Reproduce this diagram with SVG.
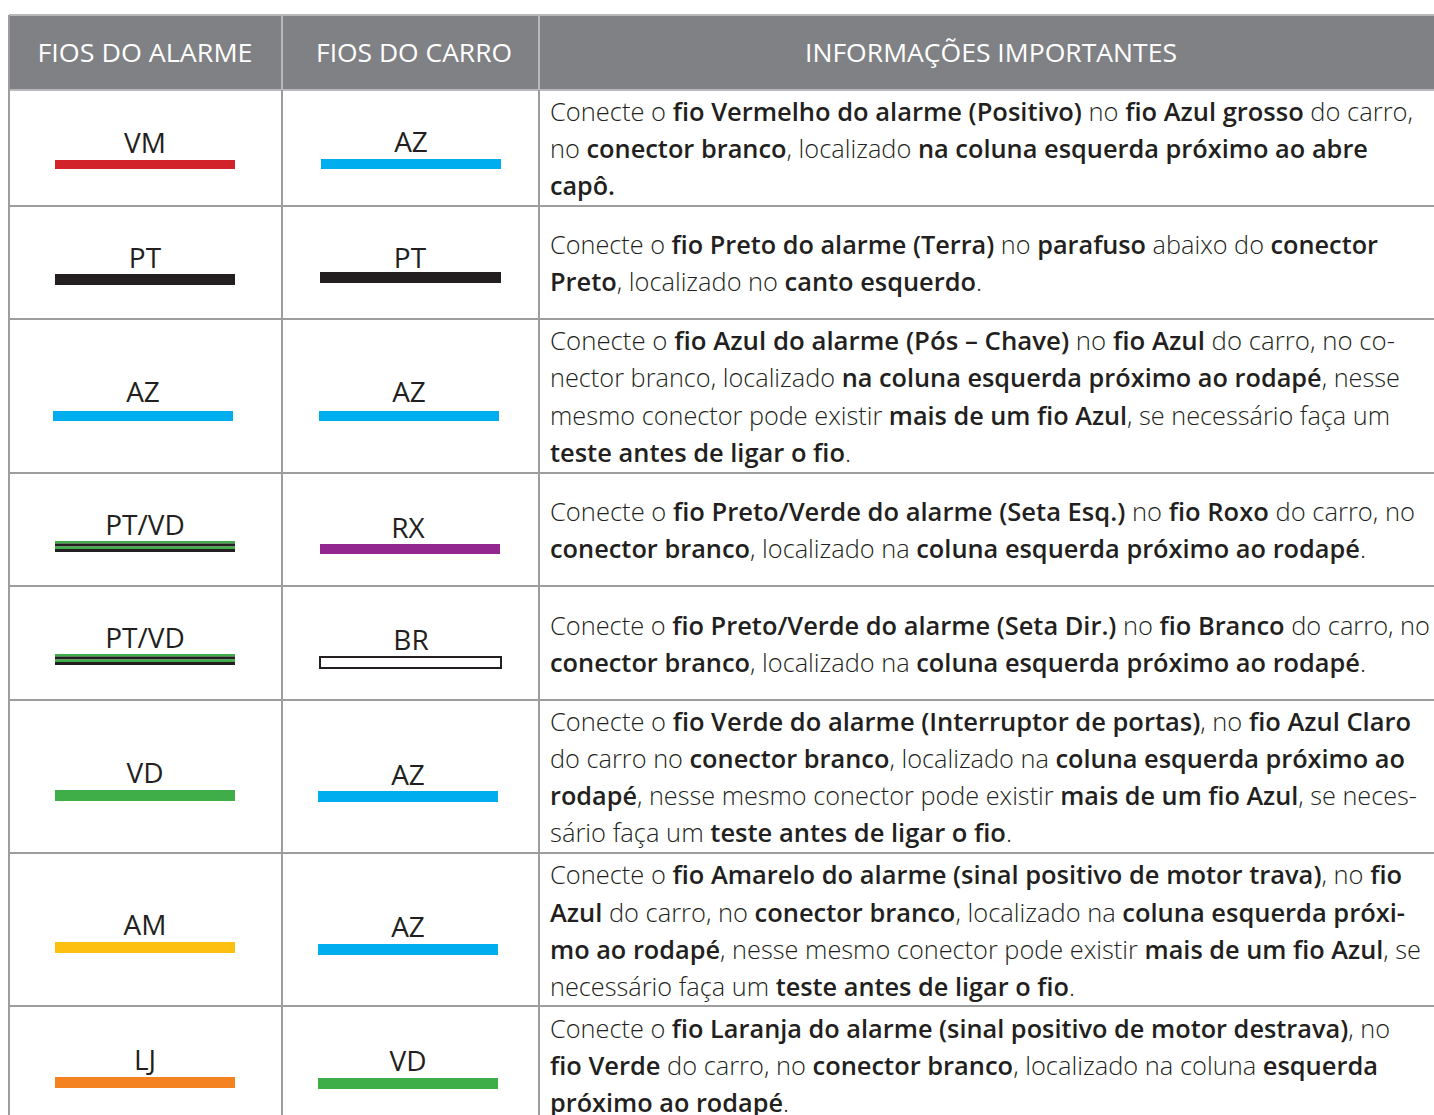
<svg xmlns="http://www.w3.org/2000/svg" width="1434" height="1115" viewBox="0 0 1434 1115">
<style>
.t{font-family:"Open Sans","Noto Sans",sans-serif;font-size:26px;fill:#231f20;font-weight:300}
.b{font-weight:600}
.hd{font-family:"Open Sans","Noto Sans",sans-serif;font-size:25px;fill:#ffffff;font-weight:400;text-anchor:middle}
.lb{font-family:"Open Sans","Noto Sans",sans-serif;font-size:28px;fill:#231f20;font-weight:400;text-anchor:middle}
.gl{stroke:#9d9d9d;stroke-width:2;fill:none}
.gh{stroke:#b8b9bb;stroke-width:2;fill:none}
</style>
<rect x="0" y="0" width="1434" height="1115" fill="#ffffff"/>
<g id="header">
<rect x="9" y="15" width="1425" height="75" fill="#808184"/>
<text class="hd" x="145" y="62" textLength="215" lengthAdjust="spacingAndGlyphs">FIOS DO ALARME</text>
<text class="hd" x="414" y="62" textLength="196" lengthAdjust="spacingAndGlyphs">FIOS DO CARRO</text>
<text class="hd" x="991" y="62" textLength="372" lengthAdjust="spacingAndGlyphs">INFORMAÇÕES IMPORTANTES</text>
</g>
<g id="grid">
<line class="gh" x1="9" y1="15" x2="1434" y2="15"/>
<line class="gh" x1="282" y1="15" x2="282" y2="90"/>
<line class="gh" x1="539" y1="15" x2="539" y2="90"/>
<line class="gh" x1="9" y1="90" x2="1434" y2="90"/>
<line class="gl" x1="9" y1="15" x2="9" y2="1115"/>
<line class="gl" x1="282" y1="90" x2="282" y2="1115"/>
<line class="gl" x1="539" y1="90" x2="539" y2="1115"/>
<line class="gl" x1="9" y1="206" x2="1434" y2="206"/>
<line class="gl" x1="9" y1="319" x2="1434" y2="319"/>
<line class="gl" x1="9" y1="473" x2="1434" y2="473"/>
<line class="gl" x1="9" y1="586" x2="1434" y2="586"/>
<line class="gl" x1="9" y1="700" x2="1434" y2="700"/>
<line class="gl" x1="9" y1="853" x2="1434" y2="853"/>
<line class="gl" x1="9" y1="1006" x2="1434" y2="1006"/>
</g>
<g id="row1">
<text class="lb" x="145" y="153">VM</text>
<rect x="55" y="160" width="180" height="9" fill="#d2232a"/>
<text class="lb" x="411" y="152">AZ</text>
<rect x="321" y="159" width="180" height="10" fill="#00aeef"/>
<text class="t" x="550" y="121" textLength="863" lengthAdjust="spacingAndGlyphs">Conecte o <tspan class="b">fio Vermelho do alarme (Positivo)</tspan> no <tspan class="b">fio Azul grosso</tspan> do carro,</text>
<text class="t" x="550" y="158" textLength="818" lengthAdjust="spacingAndGlyphs">no <tspan class="b">conector branco</tspan>, localizado <tspan class="b">na coluna esquerda próximo ao abre</tspan></text>
<text class="t b" x="550" y="195" textLength="65" lengthAdjust="spacingAndGlyphs">capô.</text>
</g>
<g id="row2">
<text class="lb" x="145" y="268">PT</text>
<rect x="55" y="274" width="180" height="11" fill="#231f20"/>
<text class="lb" x="410" y="268">PT</text>
<rect x="320" y="272" width="181" height="11" fill="#231f20"/>
<text class="t" x="550" y="254" textLength="828" lengthAdjust="spacingAndGlyphs">Conecte o <tspan class="b">fio Preto do alarme (Terra)</tspan> no <tspan class="b">parafuso</tspan> abaixo do <tspan class="b">conector</tspan></text>
<text class="t" x="550" y="291" textLength="432" lengthAdjust="spacingAndGlyphs"><tspan class="b">Preto</tspan>, localizado no <tspan class="b">canto esquerdo</tspan>.</text>
</g>
<g id="row3">
<text class="lb" x="143" y="402">AZ</text>
<rect x="53" y="411" width="180" height="10" fill="#00aeef"/>
<text class="lb" x="409" y="402">AZ</text>
<rect x="319" y="411" width="180" height="10" fill="#00aeef"/>
<text class="t" x="550" y="350" textLength="845" lengthAdjust="spacingAndGlyphs">Conecte o <tspan class="b">fio Azul do alarme (Pós – Chave)</tspan> no <tspan class="b">fio Azul</tspan> do carro, no co-</text>
<text class="t" x="550" y="387" textLength="850" lengthAdjust="spacingAndGlyphs">nector branco, localizado <tspan class="b">na coluna esquerda próximo ao rodapé</tspan>, nesse</text>
<text class="t" x="550" y="425" textLength="840" lengthAdjust="spacingAndGlyphs">mesmo conector pode existir <tspan class="b">mais de um fio Azul</tspan>, se necessário faça um</text>
<text class="t" x="550" y="462" textLength="301" lengthAdjust="spacingAndGlyphs"><tspan class="b">teste antes de ligar o fio</tspan>.</text>
</g>
<g id="row4">
<text class="lb" x="145" y="535">PT/VD</text>
<rect x="55" y="541" width="180" height="2.5" fill="#3fae49"/>
<rect x="55" y="543.5" width="180" height="3" fill="#231f20"/>
<rect x="55" y="546.5" width="180" height="2.5" fill="#3fae49"/>
<rect x="55" y="549" width="180" height="3" fill="#231f20"/>
<text class="lb" x="408" y="538">RX</text>
<rect x="320" y="544" width="180" height="10" fill="#92278f"/>
<text class="t" x="550" y="521" textLength="865" lengthAdjust="spacingAndGlyphs">Conecte o <tspan class="b">fio Preto/Verde do alarme (Seta Esq.)</tspan> no <tspan class="b">fio Roxo</tspan> do carro, no</text>
<text class="t" x="550" y="558" textLength="816" lengthAdjust="spacingAndGlyphs"><tspan class="b">conector branco</tspan>, localizado na <tspan class="b">coluna esquerda próximo ao rodapé</tspan>.</text>
</g>
<g id="row5">
<text class="lb" x="145" y="648">PT/VD</text>
<rect x="55" y="654" width="180" height="2.5" fill="#3fae49"/>
<rect x="55" y="656.5" width="180" height="3" fill="#231f20"/>
<rect x="55" y="659.5" width="180" height="2.5" fill="#3fae49"/>
<rect x="55" y="662" width="180" height="3" fill="#231f20"/>
<text class="lb" x="411" y="650">BR</text>
<rect x="320" y="657" width="181" height="11" fill="#ffffff" stroke="#231f20" stroke-width="2"/>
<text class="t" x="550" y="635" textLength="880" lengthAdjust="spacingAndGlyphs">Conecte o <tspan class="b">fio Preto/Verde do alarme (Seta Dir.)</tspan> no <tspan class="b">fio Branco</tspan> do carro, no</text>
<text class="t" x="550" y="672" textLength="816" lengthAdjust="spacingAndGlyphs"><tspan class="b">conector branco</tspan>, localizado na <tspan class="b">coluna esquerda próximo ao rodapé</tspan>.</text>
</g>
<g id="row6">
<text class="lb" x="145" y="783">VD</text>
<rect x="55" y="790" width="180" height="11" fill="#3fae49"/>
<text class="lb" x="408" y="785">AZ</text>
<rect x="318" y="791" width="180" height="11" fill="#00aeef"/>
<text class="t" x="550" y="731" textLength="861" lengthAdjust="spacingAndGlyphs">Conecte o <tspan class="b">fio Verde do alarme (Interruptor de portas)</tspan>, no <tspan class="b">fio Azul Claro</tspan></text>
<text class="t" x="550" y="768" textLength="855" lengthAdjust="spacingAndGlyphs">do carro no <tspan class="b">conector branco</tspan>, localizado na <tspan class="b">coluna esquerda próximo ao</tspan></text>
<text class="t" x="550" y="805" textLength="867" lengthAdjust="spacingAndGlyphs"><tspan class="b">rodapé</tspan>, nesse mesmo conector pode existir <tspan class="b">mais de um fio Azul</tspan>, se neces-</text>
<text class="t" x="550" y="842" textLength="462" lengthAdjust="spacingAndGlyphs">sário faça um <tspan class="b">teste antes de ligar o fio</tspan>.</text>
</g>
<g id="row7">
<text class="lb" x="145" y="935">AM</text>
<rect x="55" y="942" width="180" height="11" fill="#fdc010"/>
<text class="lb" x="408" y="937">AZ</text>
<rect x="318" y="944" width="180" height="11" fill="#00aeef"/>
<text class="t" x="550" y="884" textLength="852" lengthAdjust="spacingAndGlyphs">Conecte o <tspan class="b">fio Amarelo do alarme (sinal positivo de motor trava)</tspan>, no <tspan class="b">fio</tspan></text>
<text class="t" x="550" y="922" textLength="855" lengthAdjust="spacingAndGlyphs"><tspan class="b">Azul</tspan> do carro, no <tspan class="b">conector branco</tspan>, localizado na <tspan class="b">coluna esquerda próxi-</tspan></text>
<text class="t" x="550" y="959" textLength="871" lengthAdjust="spacingAndGlyphs"><tspan class="b">mo ao rodapé</tspan>, nesse mesmo conector pode existir <tspan class="b">mais de um fio Azul</tspan>, se</text>
<text class="t" x="550" y="996" textLength="525" lengthAdjust="spacingAndGlyphs">necessário faça um <tspan class="b">teste antes de ligar o fio</tspan>.</text>
</g>
<g id="row8">
<text class="lb" x="145" y="1070">LJ</text>
<rect x="55" y="1077" width="180" height="11" fill="#f58220"/>
<text class="lb" x="408" y="1071">VD</text>
<rect x="318" y="1078" width="180" height="11" fill="#3fae49"/>
<text class="t" x="550" y="1038" textLength="840" lengthAdjust="spacingAndGlyphs">Conecte o <tspan class="b">fio Laranja do alarme (sinal positivo de motor destrava)</tspan>, no</text>
<text class="t" x="550" y="1075" textLength="828" lengthAdjust="spacingAndGlyphs"><tspan class="b">fio Verde</tspan> do carro, no <tspan class="b">conector branco</tspan>, localizado na coluna <tspan class="b">esquerda</tspan></text>
<text class="t" x="550" y="1112" textLength="239" lengthAdjust="spacingAndGlyphs"><tspan class="b">próximo ao rodapé</tspan>.</text>
</g>
</svg>
